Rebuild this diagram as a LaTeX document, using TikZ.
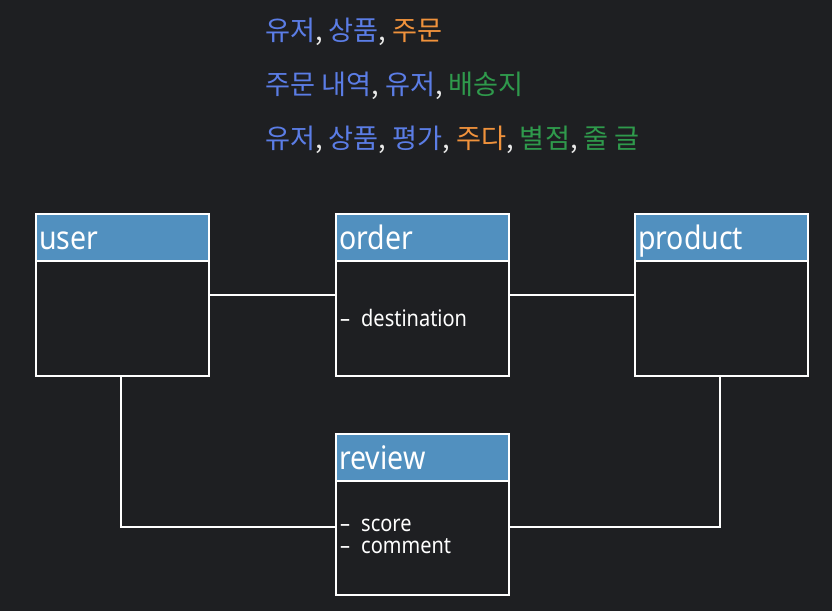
\documentclass[tikz,border=0pt]{standalone}
\usepackage{fontspec}
\setmainfont{Noto Sans}
\newfontfamily\lat[FakeStretch=0.88]{Noto Sans}
\newfontfamily\kr{Noto Sans CJK KR}
\definecolor{bgc}{HTML}{1E1F22}
\definecolor{hdrc}{HTML}{5190BF}
\definecolor{kblue}{HTML}{5B7DE6}
\definecolor{korange}{HTML}{F0923C}
\definecolor{kgreen}{HTML}{2F9A4C}
\definecolor{kwhite}{HTML}{E8E8E8}
\tikzset{
  hdr/.style={draw=white, line width=2.4bp, fill=hdrc, anchor=north west, minimum width=173bp, minimum height=47bp, text width=167bp, align=left, inner xsep=3bp, inner ysep=0pt, text height=26bp, text depth=3bp, text=white, font=\lat\fontsize{32.5}{34}\selectfont},
  body/.style={draw=white, line width=2.4bp, anchor=north west, minimum width=173bp, minimum height=115bp, inner sep=0pt},
  attr/.style={anchor=west, inner sep=0pt, text=white, align=left, font=\lat\fontsize{22.8}{22}\selectfont},
  kline/.style={anchor=west, inner sep=0pt, font=\kr\fontsize{27.3}{30}\selectfont},
  conn/.style={draw=white, line width=2.4bp}
}
\newcommand{\cm}{\textcolor{kwhite}{,}}
\newcommand{\dsh}{–\hspace{11bp}}
\begin{document}
\begin{tikzpicture}[x=1bp,y=-1bp]
\fill[bgc] (0,0) rectangle (832,611);
\useasboundingbox (0,0) rectangle (832,611);

\node[kline] (t1) at (265,32) {\textcolor{kblue}{유저}\cm{} \textcolor{kblue}{상품}\cm{} \textcolor{korange}{주문}};
\node[kline] (t2) at (265,86) {\textcolor{kblue}{주문 내역}\cm{} \textcolor{kblue}{유저}\cm{} \textcolor{kgreen}{배송지}};
\node[kline] (t3) at (265,140) {\textcolor{kblue}{유저}\cm{} \textcolor{kblue}{상품}\cm{} \textcolor{kblue}{평가}\cm{} \textcolor{korange}{주다}\cm{} \textcolor{kgreen}{별점}\cm{} \textcolor{kgreen}{줄 글}};

% user
\node[body] (userb) at (35,260) {};
\node[hdr] (userh) at (35,213) {user};
% order
\node[body] (orderb) at (335,260) {};
\node[hdr] (orderh) at (335,213) {order};
% product
\node[body] (productb) at (634,260) {};
\node[hdr] (producth) at (634,213) {product};
% review
\node[body, minimum height=114bp] (reviewb) at (335,480) {};
\node[hdr] (reviewh) at (335,433) {review};

\node[attr] (oattr) at (340,318) {\dsh destination};
\node[attr] (rattr) at (340,536) {\dsh score\\\dsh comment};

\coordinate (ucorner) at (121,527);
\coordinate (pcorner) at (720,527);

\draw[conn] (userb.east |- 0,295) -- (orderb.west |- 0,295);
\draw[conn] (orderb.east |- 0,295) -- (productb.west |- 0,295);
\draw[conn] (userb.south -| ucorner) -- (ucorner) -- (reviewb.west |- ucorner);
\draw[conn] (productb.south -| pcorner) -- (pcorner) -- (reviewb.east |- pcorner);
\end{tikzpicture}
\end{document}
